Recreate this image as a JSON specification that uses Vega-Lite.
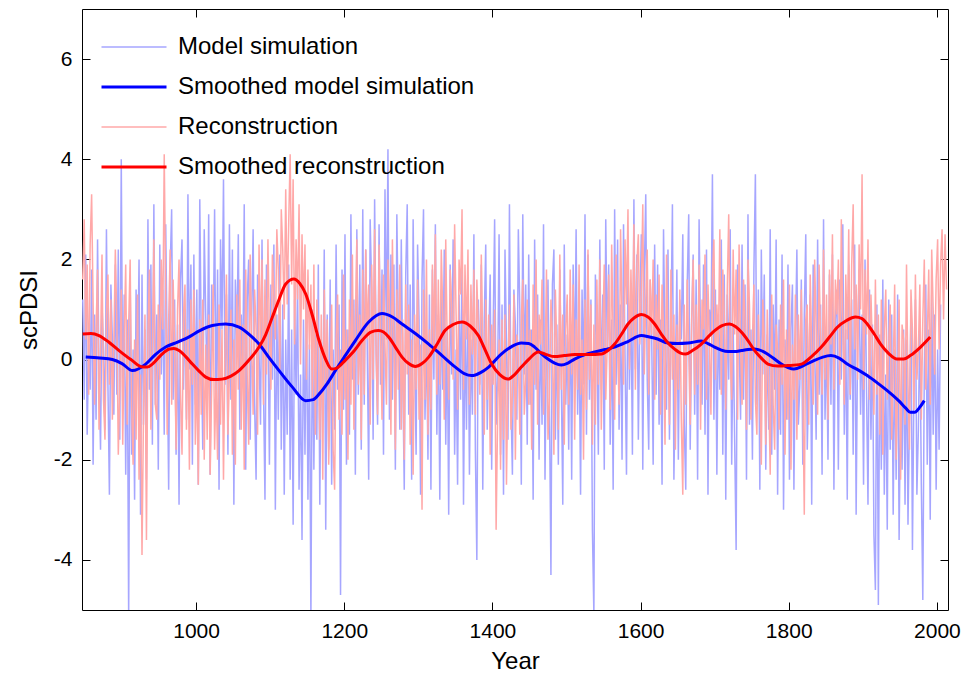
{
"$schema":"https://vega.github.io/schema/vega-lite/v6.json",
"width":866,"height":601,
"autosize":{"type":"none"},
"padding":{"left":82,"top":9,"right":17,"bottom":70},
"background":"white",
"config":{"font":"Liberation Sans","view":{"stroke":null},
"axis":{"grid":false,"domainColor":"black","tickColor":"black","labelColor":"black","titleColor":"black","labelFont":"Liberation Sans","titleFont":"Liberation Sans","labelFontSize":21,"titleFontSize":24,"titleFontWeight":"normal","domainWidth":1,"tickWidth":1}},
"datasets":{
"noise":[
{"t":847,"m":1.2,"r":1.6},{"t":849,"m":-0.8,"r":2.8},{"t":851,"m":2.1,"r":0.4},{"t":853,"m":-1.5,"r":1.9},{"t":855,"m":0.3,"r":-0.7},
{"t":857,"m":-0.6,"r":2.3},{"t":859,"m":1.8,"r":3.3},{"t":861,"m":-2.1,"r":1.1},{"t":863,"m":0.9,"r":-0.9},{"t":865,"m":-1.2,"r":0.6},
{"t":867,"m":2.4,"r":1.8},{"t":869,"m":-0.3,"r":-1.4},{"t":871,"m":-1.8,"r":0.2},{"t":873,"m":1.1,"r":2.1},{"t":875,"m":0.2,"r":-0.8},
{"t":877,"m":-1.4,"r":-1.6},{"t":879,"m":2.6,"r":0.9},{"t":881,"m":-0.5,"r":1.7},{"t":883,"m":-2.7,"r":-0.5},{"t":885,"m":1.5,"r":1.2},
{"t":887,"m":0.4,"r":-1.2},{"t":889,"m":-1.1,"r":0.3},{"t":891,"m":1.9,"r":2.2},{"t":893,"m":-0.7,"r":0.8},{"t":895,"m":2.2,"r":-1.9},
{"t":897,"m":-1.6,"r":-0.6},{"t":899,"m":4.0,"r":1.4},{"t":901,"m":-0.9,"r":-1.7},{"t":903,"m":1.3,"r":0.5},{"t":905,"m":-2.3,"r":1.9},
{"t":907,"m":0.8,"r":-1.3},{"t":909,"m":-5.2,"r":0.7},{"t":911,"m":1.6,"r":2.0},{"t":913,"m":-1.9,"r":-0.9},{"t":915,"m":0.2,"r":-2.1},
{"t":917,"m":-2.8,"r":0.4},{"t":919,"m":1.4,"r":-1.6},{"t":921,"m":-0.4,"r":1.3},{"t":923,"m":2.0,"r":-2.4},{"t":925,"m":-3.1,"r":-0.3},
{"t":927,"m":1.7,"r":-3.9},{"t":929,"m":-1.3,"r":-1.1},{"t":931,"m":0.6,"r":0.9},{"t":933,"m":-2.4,"r":-3.6},{"t":935,"m":2.8,"r":0.5},
{"t":937,"m":-0.6,"r":1.8},{"t":939,"m":1.9,"r":-1.4},{"t":941,"m":-1.7,"r":0.2},{"t":943,"m":3.1,"r":2.4},{"t":945,"m":-0.9,"r":-0.9},
{"t":947,"m":0.9,"r":-1.2},{"t":949,"m":-2.2,"r":1.1},{"t":951,"m":2.3,"r":-0.4},{"t":953,"m":-0.3,"r":2.0},{"t":955,"m":1.4,"r":0.6},
{"t":957,"m":-1.5,"r":4.1},{"t":959,"m":2.7,"r":1.3},{"t":961,"m":0.1,"r":-1.5},{"t":963,"m":-2.6,"r":0.8},{"t":965,"m":1.8,"r":2.2},
{"t":967,"m":3.0,"r":-0.9},{"t":969,"m":-0.8,"r":1.6},{"t":971,"m":1.2,"r":0.3},{"t":973,"m":-1.9,"r":-1.8},{"t":975,"m":0.7,"r":1.0},
{"t":977,"m":-2.9,"r":2.0},{"t":979,"m":1.6,"r":-0.7},{"t":981,"m":2.4,"r":-1.9},{"t":983,"m":-0.6,"r":0.9},{"t":985,"m":1.0,"r":1.5},
{"t":987,"m":-1.2,"r":-1.4},{"t":989,"m":3.3,"r":0.6},{"t":991,"m":-0.2,"r":-2.2},{"t":993,"m":1.9,"r":1.2},{"t":995,"m":-2.1,"r":-0.5},
{"t":997,"m":2.1,"r":1.4},{"t":999,"m":-0.9,"r":-1.7},{"t":1001,"m":1.4,"r":-0.2},{"t":1003,"m":-2.5,"r":-2.5},{"t":1005,"m":3.2,"r":0.8},
{"t":1007,"m":0.3,"r":-1.1},{"t":1009,"m":-1.8,"r":1.2},{"t":1011,"m":2.6,"r":-2.0},{"t":1013,"m":0.9,"r":0.3},{"t":1015,"m":-0.7,"r":-1.6},
{"t":1017,"m":2.9,"r":0.9},{"t":1019,"m":-2.3,"r":-2.3},{"t":1021,"m":1.5,"r":-0.6},{"t":1023,"m":0.2,"r":1.5},{"t":1025,"m":3.0,"r":-1.8},
{"t":1027,"m":-1.1,"r":-0.4},{"t":1029,"m":1.8,"r":-2.0},{"t":1031,"m":-2.6,"r":1.1},{"t":1033,"m":2.4,"r":-1.3},{"t":1035,"m":0.6,"r":0.6},
{"t":1037,"m":3.6,"r":-2.4},{"t":1039,"m":-0.5,"r":0.2},{"t":1041,"m":1.3,"r":1.7},{"t":1043,"m":-1.9,"r":-1.5},{"t":1045,"m":2.7,"r":-0.3},
{"t":1047,"m":-0.8,"r":1.0},{"t":1049,"m":2.2,"r":-1.9},{"t":1051,"m":-2.9,"r":0.4},{"t":1053,"m":1.6,"r":-2.1},{"t":1055,"m":0.4,"r":1.3},
{"t":1057,"m":2.5,"r":-0.6},{"t":1059,"m":-1.4,"r":1.6},{"t":1061,"m":0.9,"r":-1.4},{"t":1063,"m":-0.3,"r":0.7},{"t":1065,"m":3.1,"r":-2.2},
{"t":1067,"m":-2.2,"r":1.8},{"t":1069,"m":1.2,"r":-0.3},{"t":1071,"m":2.0,"r":-1.7},{"t":1073,"m":-1.6,"r":2.1},{"t":1075,"m":0.8,"r":0.4},
{"t":1077,"m":2.6,"r":-1.1},{"t":1079,"m":-0.9,"r":1.4},{"t":1081,"m":-2.4,"r":0.6},{"t":1083,"m":1.7,"r":-1.5},{"t":1085,"m":0.1,"r":2.3},
{"t":1087,"m":-1.3,"r":0.2},{"t":1089,"m":2.4,"r":2.0},{"t":1091,"m":-0.6,"r":-0.9},{"t":1093,"m":-2.8,"r":1.6},{"t":1095,"m":1.9,"r":-0.3},
{"t":1097,"m":0.7,"r":2.4},{"t":1099,"m":-2.1,"r":0.5},{"t":1101,"m":1.5,"r":-0.6},{"t":1103,"m":-0.4,"r":2.1},{"t":1105,"m":2.3,"r":1.3},
{"t":1107,"m":-3.0,"r":0.4},{"t":1109,"m":0.9,"r":2.6},{"t":1111,"m":-1.2,"r":1.8},{"t":1113,"m":2.1,"r":-0.2},{"t":1115,"m":-1.8,"r":3.0},
{"t":1117,"m":1.1,"r":2.2},{"t":1119,"m":-2.7,"r":0.8},{"t":1121,"m":0.4,"r":3.4},{"t":1123,"m":-1.5,"r":1.1},{"t":1125,"m":1.9,"r":2.7},
{"t":1127,"m":-2.4,"r":4.1},{"t":1129,"m":0.6,"r":1.5},{"t":1131,"m":-3.3,"r":3.6},{"t":1133,"m":1.2,"r":0.3},{"t":1135,"m":-0.7,"r":2.4},
{"t":1137,"m":1.5,"r":1.2},{"t":1139,"m":-2.6,"r":3.1},{"t":1141,"m":-0.3,"r":-0.1},{"t":1143,"m":-3.6,"r":2.5},{"t":1145,"m":0.8,"r":1.0},
{"t":1147,"m":-1.9,"r":2.3},{"t":1149,"m":1.2,"r":-0.4},{"t":1151,"m":-2.8,"r":1.8},{"t":1153,"m":0.3,"r":0.2},{"t":1155,"m":-5.2,"r":1.5},
{"t":1157,"m":1.0,"r":-0.8},{"t":1159,"m":-2.2,"r":1.9},{"t":1161,"m":0.5,"r":-1.5},{"t":1163,"m":-1.6,"r":1.2},{"t":1165,"m":1.9,"r":0.3},
{"t":1167,"m":-2.9,"r":-1.6},{"t":1169,"m":0.4,"r":0.9},{"t":1171,"m":-1.2,"r":-2.4},{"t":1173,"m":2.2,"r":1.4},{"t":1175,"m":-3.4,"r":-0.5},
{"t":1177,"m":0.9,"r":0.8},{"t":1179,"m":-1.8,"r":-2.1},{"t":1181,"m":1.6,"r":-0.6},{"t":1183,"m":-2.5,"r":1.1},{"t":1185,"m":0.2,"r":-1.8},
{"t":1187,"m":-1.4,"r":-2.6},{"t":1189,"m":2.3,"r":0.4},{"t":1191,"m":-0.6,"r":1.3},{"t":1193,"m":1.1,"r":-1.2},{"t":1195,"m":-4.7,"r":0.2},
{"t":1197,"m":1.8,"r":-1.5},{"t":1199,"m":-1.0,"r":1.7},{"t":1201,"m":2.5,"r":-0.8},{"t":1203,"m":-2.1,"r":0.6},{"t":1205,"m":0.6,"r":-2.0},
{"t":1207,"m":-1.5,"r":1.2},{"t":1209,"m":2.9,"r":-0.9},{"t":1211,"m":-0.4,"r":2.1},{"t":1213,"m":1.2,"r":-1.4},{"t":1215,"m":-2.3,"r":0.7},
{"t":1217,"m":2.6,"r":2.4},{"t":1219,"m":-0.7,"r":-0.5},{"t":1221,"m":1.9,"r":0.9},{"t":1223,"m":-1.8,"r":-1.6},{"t":1225,"m":3.0,"r":1.8},
{"t":1227,"m":-0.9,"r":-0.7},{"t":1229,"m":2.2,"r":2.2},{"t":1231,"m":0.3,"r":0.4},{"t":1233,"m":-2.4,"r":1.5},{"t":1235,"m":2.8,"r":-1.3},
{"t":1237,"m":1.4,"r":1.9},{"t":1239,"m":-1.6,"r":-0.4},{"t":1241,"m":3.2,"r":2.6},{"t":1243,"m":0.2,"r":0.1},{"t":1245,"m":-1.3,"r":-1.1},
{"t":1247,"m":2.7,"r":2.3},{"t":1249,"m":-0.5,"r":0.6},{"t":1251,"m":1.8,"r":-1.2},{"t":1253,"m":-1.9,"r":1.7},{"t":1255,"m":3.4,"r":0.3},
{"t":1257,"m":0.4,"r":-0.9},{"t":1259,"m":4.2,"r":2.0},{"t":1261,"m":-1.2,"r":1.1},{"t":1263,"m":2.1,"r":-1.5},{"t":1265,"m":-0.8,"r":2.4},
{"t":1267,"m":1.9,"r":0.5},{"t":1269,"m":-2.2,"r":-1.8},{"t":1271,"m":2.9,"r":1.4},{"t":1273,"m":0.6,"r":-0.6},{"t":1275,"m":-1.4,"r":1.9},
{"t":1277,"m":2.4,"r":-1.4},{"t":1279,"m":-0.3,"r":0.8},{"t":1281,"m":-2.6,"r":-2.0},{"t":1283,"m":1.7,"r":1.5},{"t":1285,"m":3.1,"r":-0.3},
{"t":1287,"m":-1.1,"r":1.1},{"t":1289,"m":1.5,"r":-1.7},{"t":1291,"m":-2.4,"r":0.4},{"t":1293,"m":2.8,"r":-2.3},{"t":1295,"m":0.2,"r":0.9},
{"t":1297,"m":-1.9,"r":-0.6},{"t":1299,"m":2.3,"r":1.6},{"t":1301,"m":0.8,"r":-1.2},{"t":1303,"m":-2.7,"r":0.3},{"t":1305,"m":1.6,"r":-3.0},
{"t":1307,"m":3.0,"r":1.4},{"t":1309,"m":-1.2,"r":-0.8},{"t":1311,"m":0.5,"r":2.0},{"t":1313,"m":-2.0,"r":-1.5},{"t":1315,"m":1.3,"r":0.6},
{"t":1317,"m":-2.6,"r":-1.0},{"t":1319,"m":1.8,"r":1.9},{"t":1321,"m":-0.4,"r":0.2},{"t":1323,"m":2.7,"r":2.5},{"t":1325,"m":-1.5,"r":-0.7},
{"t":1327,"m":0.9,"r":1.6},{"t":1329,"m":-2.8,"r":-0.5},{"t":1331,"m":1.4,"r":2.2},{"t":1333,"m":-0.6,"r":0.9},{"t":1335,"m":2.2,"r":-1.2},
{"t":1337,"m":-1.7,"r":2.4},{"t":1339,"m":0.6,"r":0.3},{"t":1341,"m":-3.1,"r":-0.8},{"t":1343,"m":1.9,"r":1.8},{"t":1345,"m":-0.3,"r":1.1},
{"t":1347,"m":2.4,"r":-0.4},{"t":1349,"m":-1.9,"r":2.7},{"t":1351,"m":0.2,"r":0.9},{"t":1353,"m":-2.5,"r":-1.0},{"t":1355,"m":1.3,"r":2.0},
{"t":1357,"m":-0.8,"r":1.3},{"t":1359,"m":2.0,"r":3.0},{"t":1361,"m":-2.9,"r":-0.6},{"t":1363,"m":0.7,"r":1.9},{"t":1365,"m":-1.4,"r":0.4},
{"t":1367,"m":1.6,"r":2.2},{"t":1369,"m":-2.3,"r":-0.9},{"t":1371,"m":0.4,"r":1.5},{"t":1373,"m":-1.1,"r":0.1},{"t":1375,"m":2.5,"r":1.8},
{"t":1377,"m":-1.8,"r":-1.1},{"t":1379,"m":-4.0,"r":1.6},{"t":1381,"m":1.2,"r":0.6},{"t":1383,"m":-0.5,"r":-0.7},{"t":1385,"m":1.9,"r":2.1},
{"t":1387,"m":-2.6,"r":0.3},{"t":1389,"m":0.8,"r":-1.5},{"t":1391,"m":2.3,"r":1.2},{"t":1393,"m":-1.4,"r":-0.8},{"t":1395,"m":0.3,"r":0.9},
{"t":1397,"m":1.7,"r":-1.9},{"t":1399,"m":-2.2,"r":0.7},{"t":1401,"m":0.6,"r":-0.5},{"t":1403,"m":2.8,"r":1.0},{"t":1405,"m":-1.3,"r":-3.4},
{"t":1407,"m":-0.4,"r":-1.2},{"t":1409,"m":2.5,"r":0.4},{"t":1411,"m":-1.9,"r":-2.2},{"t":1413,"m":1.1,"r":0.8},{"t":1415,"m":-2.7,"r":-1.6},
{"t":1417,"m":2.2,"r":0.9},{"t":1419,"m":0.3,"r":-2.5},{"t":1421,"m":-1.6,"r":-0.3},{"t":1423,"m":3.1,"r":1.1},{"t":1425,"m":-0.8,"r":-1.4},
{"t":1427,"m":-2.3,"r":-0.7},{"t":1429,"m":1.4,"r":1.3},{"t":1431,"m":0.7,"r":-2.0},{"t":1433,"m":-1.2,"r":0.5},{"t":1435,"m":2.6,"r":0.2},
{"t":1437,"m":1.0,"r":-1.5},{"t":1439,"m":-2.5,"r":0.8},{"t":1441,"m":2.9,"r":1.6},{"t":1443,"m":-0.3,"r":-1.1},{"t":1445,"m":1.5,"r":-0.4},
{"t":1447,"m":-1.7,"r":1.2},{"t":1449,"m":2.1,"r":-0.9},{"t":1451,"m":-0.9,"r":0.6},{"t":1453,"m":0.6,"r":-1.8},{"t":1455,"m":-2.8,"r":1.5},
{"t":1457,"m":2.4,"r":-0.5},{"t":1459,"m":-0.6,"r":2.0},{"t":1461,"m":1.3,"r":-1.3},{"t":1463,"m":-2.0,"r":0.9},{"t":1465,"m":0.8,"r":0.3},
{"t":1467,"m":-1.3,"r":1.6},{"t":1469,"m":2.7,"r":-1.1},{"t":1471,"m":-2.4,"r":-0.2},{"t":1473,"m":0.4,"r":1.8},{"t":1475,"m":1.6,"r":-1.6},
{"t":1477,"m":-0.8,"r":-0.8},{"t":1479,"m":-4.3,"r":1.2},{"t":1481,"m":1.5,"r":0.5},{"t":1483,"m":2.2,"r":-1.9},{"t":1485,"m":-1.6,"r":1.4},
{"t":1487,"m":0.7,"r":0.2},{"t":1489,"m":-2.1,"r":-1.4},{"t":1491,"m":1.8,"r":2.1},{"t":1493,"m":-0.4,"r":-0.6},{"t":1495,"m":-2.9,"r":0.9},
{"t":1497,"m":2.3,"r":-1.7},{"t":1499,"m":-0.9,"r":0.6},{"t":1501,"m":0.5,"r":1.3},{"t":1503,"m":-1.8,"r":-0.9},{"t":1505,"m":1.2,"r":1.8},
{"t":1507,"m":-2.4,"r":-0.3},{"t":1509,"m":1.9,"r":1.5},{"t":1511,"m":-0.3,"r":-1.6},{"t":1513,"m":2.6,"r":0.8},{"t":1515,"m":-1.1,"r":-0.6},
{"t":1517,"m":0.6,"r":1.9},{"t":1519,"m":-2.7,"r":-0.7},{"t":1521,"m":1.4,"r":0.4},{"t":1523,"m":-0.5,"r":-2.0},{"t":1525,"m":2.9,"r":1.2},
{"t":1527,"m":-1.5,"r":-1.0},{"t":1529,"m":2.1,"r":2.2},{"t":1531,"m":-0.8,"r":-0.4},{"t":1533,"m":1.2,"r":1.1},{"t":1535,"m":-3.4,"r":-1.7},
{"t":1537,"m":-5.1,"r":0.7},{"t":1539,"m":1.7,"r":-1.3},{"t":1541,"m":0.4,"r":1.6},{"t":1543,"m":-1.9,"r":-0.5},{"t":1545,"m":2.4,"r":2.0},
{"t":1547,"m":-0.6,"r":-1.4},{"t":1549,"m":1.3,"r":0.6},{"t":1551,"m":-2.2,"r":1.9},{"t":1553,"m":2.8,"r":-0.8},{"t":1555,"m":0.2,"r":0.3},
{"t":1557,"m":1.9,"r":1.7},{"t":1559,"m":-1.7,"r":-1.0},{"t":1561,"m":0.8,"r":2.3},{"t":1563,"m":-2.6,"r":0.4},{"t":1565,"m":3.0,"r":-1.2},
{"t":1567,"m":-0.5,"r":2.1},{"t":1569,"m":2.4,"r":0.2},{"t":1571,"m":-1.4,"r":-0.9},{"t":1573,"m":1.1,"r":2.6},{"t":1575,"m":-2.0,"r":0.8},
{"t":1577,"m":2.7,"r":-0.5},{"t":1579,"m":0.1,"r":2.4},{"t":1581,"m":-2.3,"r":1.1},{"t":1583,"m":1.8,"r":3.0},{"t":1585,"m":-0.6,"r":-0.2},
{"t":1587,"m":1.4,"r":1.8},{"t":1589,"m":-1.9,"r":0.4},{"t":1591,"m":3.2,"r":2.7},{"t":1593,"m":-0.2,"r":-0.6},{"t":1595,"m":2.1,"r":1.9},
{"t":1597,"m":-1.6,"r":2.5},{"t":1599,"m":0.9,"r":0.3},{"t":1601,"m":2.5,"r":1.4},{"t":1603,"m":-2.2,"r":3.1},{"t":1605,"m":1.7,"r":-0.3},
{"t":1607,"m":3.3,"r":1.2},{"t":1609,"m":-0.4,"r":2.2},{"t":1611,"m":-1.8,"r":-0.7},{"t":1613,"m":1.6,"r":1.6},{"t":1615,"m":0.5,"r":0.5},
{"t":1617,"m":-2.1,"r":2.0},{"t":1619,"m":2.3,"r":-0.8},{"t":1621,"m":-0.7,"r":1.3},{"t":1623,"m":1.9,"r":0.2},{"t":1625,"m":-1.3,"r":1.7},
{"t":1627,"m":0.8,"r":-1.1},{"t":1629,"m":-2.5,"r":1.5},{"t":1631,"m":2.6,"r":0.6},{"t":1633,"m":0.2,"r":-1.7},{"t":1635,"m":-1.0,"r":2.1},
{"t":1637,"m":2.2,"r":0.3},{"t":1639,"m":-1.6,"r":-1.3},{"t":1641,"m":0.6,"r":1.8},{"t":1643,"m":3.1,"r":-0.4},{"t":1645,"m":-2.4,"r":0.9},
{"t":1647,"m":-0.3,"r":-1.8},{"t":1649,"m":1.8,"r":0.7},{"t":1651,"m":-2.0,"r":-0.6},{"t":1653,"m":1.2,"r":1.4},{"t":1655,"m":0.4,"r":-1.2},
{"t":1657,"m":2.5,"r":-2.7},{"t":1659,"m":-1.3,"r":1.1},{"t":1661,"m":-2.6,"r":-0.9},{"t":1663,"m":1.5,"r":1.6},{"t":1665,"m":2.9,"r":0.2},
{"t":1667,"m":-1.8,"r":-1.3},{"t":1669,"m":0.7,"r":0.8},{"t":1671,"m":2.1,"r":2.0},{"t":1673,"m":-1.1,"r":-0.7},{"t":1675,"m":1.6,"r":1.1},
{"t":1677,"m":-2.4,"r":-0.5},{"t":1679,"m":2.8,"r":1.9},{"t":1681,"m":0.3,"r":-1.4},{"t":1683,"m":-0.9,"r":1.2},{"t":1685,"m":1.9,"r":0.6},
{"t":1687,"m":-1.5,"r":2.1},{"t":1689,"m":2.2,"r":-0.8},{"t":1691,"m":-2.7,"r":1.5},{"t":1693,"m":1.0,"r":0.3},{"t":1695,"m":0.5,"r":-1.1},
{"t":1697,"m":3.7,"r":1.7},{"t":1699,"m":-1.2,"r":2.4},{"t":1701,"m":1.4,"r":-0.4},{"t":1703,"m":-2.3,"r":1.1},{"t":1705,"m":0.9,"r":0.2},
{"t":1707,"m":-0.6,"r":2.6},{"t":1709,"m":2.4,"r":-0.7},{"t":1711,"m":-1.9,"r":1.8},{"t":1713,"m":1.7,"r":0.9},{"t":1715,"m":-2.8,"r":-1.0},
{"t":1717,"m":1.3,"r":1.4},{"t":1719,"m":-0.4,"r":2.9},{"t":1721,"m":2.6,"r":0.1},{"t":1723,"m":-2.1,"r":-0.8},{"t":1725,"m":0.7,"r":2.2},
{"t":1727,"m":-1.6,"r":0.5},{"t":1729,"m":-3.8,"r":1.8},{"t":1731,"m":1.9,"r":-1.2},{"t":1733,"m":0.4,"r":2.3},{"t":1735,"m":-1.2,"r":0.3},
{"t":1737,"m":2.3,"r":-0.9},{"t":1739,"m":-0.8,"r":1.6},{"t":1741,"m":1.5,"r":0.8},{"t":1743,"m":-2.4,"r":-1.4},{"t":1745,"m":2.9,"r":2.0},
{"t":1747,"m":-1.3,"r":1.1},{"t":1749,"m":0.6,"r":-1.2},{"t":1751,"m":-2.0,"r":0.4},{"t":1753,"m":1.8,"r":1.5},{"t":1755,"m":3.7,"r":-0.8},
{"t":1757,"m":-0.9,"r":-1.5},{"t":1759,"m":1.4,"r":0.9},{"t":1761,"m":-2.6,"r":-0.3},{"t":1763,"m":2.2,"r":-2.1},{"t":1765,"m":-0.3,"r":1.2},
{"t":1767,"m":1.7,"r":0.4},{"t":1769,"m":-2.2,"r":-1.7},{"t":1771,"m":0.5,"r":1.0},{"t":1773,"m":-1.4,"r":-0.6},{"t":1775,"m":2.6,"r":-2.3},
{"t":1777,"m":-1.9,"r":1.3},{"t":1779,"m":1.1,"r":-0.9},{"t":1781,"m":-0.6,"r":-1.8},{"t":1783,"m":2.4,"r":0.7},{"t":1785,"m":-2.7,"r":0.2},
{"t":1787,"m":0.8,"r":-1.4},{"t":1789,"m":-1.5,"r":1.1},{"t":1791,"m":2.1,"r":-0.5},{"t":1793,"m":-3.0,"r":1.6},{"t":1795,"m":0.4,"r":-1.9},
{"t":1797,"m":-1.2,"r":0.6},{"t":1799,"m":1.9,"r":-1.2},{"t":1801,"m":-2.4,"r":1.5},{"t":1803,"m":0.6,"r":-2.2},{"t":1805,"m":1.5,"r":0.3},
{"t":1807,"m":-2.6,"r":-0.8},{"t":1809,"m":0.3,"r":1.3},{"t":1811,"m":2.2,"r":-1.6},{"t":1813,"m":-1.3,"r":0.9},{"t":1815,"m":-0.5,"r":-0.4},
{"t":1817,"m":1.6,"r":1.4},{"t":1819,"m":-2.1,"r":-0.6},{"t":1821,"m":0.9,"r":-3.1},{"t":1823,"m":2.5,"r":0.8},{"t":1825,"m":-1.8,"r":1.1},
{"t":1827,"m":-0.4,"r":-1.3},{"t":1829,"m":1.3,"r":1.7},{"t":1831,"m":-2.9,"r":0.2},{"t":1833,"m":1.9,"r":-0.9},{"t":1835,"m":0.2,"r":2.0},
{"t":1837,"m":-1.6,"r":0.6},{"t":1839,"m":2.4,"r":-1.1},{"t":1841,"m":-0.7,"r":1.9},{"t":1843,"m":1.1,"r":0.4},{"t":1845,"m":-2.3,"r":-0.7},
{"t":1847,"m":2.8,"r":2.2},{"t":1849,"m":-1.2,"r":-0.4},{"t":1851,"m":0.5,"r":1.3},{"t":1853,"m":-2.0,"r":-1.2},{"t":1855,"m":1.7,"r":1.8},
{"t":1857,"m":-0.9,"r":0.3},{"t":1859,"m":2.1,"r":2.5},{"t":1861,"m":-2.6,"r":-0.6},{"t":1863,"m":0.8,"r":1.6},{"t":1865,"m":1.4,"r":0.9},
{"t":1867,"m":-2.2,"r":2.0},{"t":1869,"m":1.6,"r":-0.5},{"t":1871,"m":-0.4,"r":2.8},{"t":1873,"m":2.7,"r":0.6},{"t":1875,"m":-1.5,"r":-0.9},
{"t":1877,"m":0.6,"r":1.7},{"t":1879,"m":-2.8,"r":0.4},{"t":1881,"m":1.9,"r":2.6},{"t":1883,"m":-0.8,"r":-0.7},{"t":1885,"m":1.2,"r":1.9},
{"t":1887,"m":-1.9,"r":3.1},{"t":1889,"m":2.3,"r":0.2},{"t":1891,"m":-3.1,"r":1.5},{"t":1893,"m":0.4,"r":-0.4},{"t":1895,"m":1.8,"r":2.3},
{"t":1897,"m":-1.1,"r":1.0},{"t":1899,"m":0.9,"r":3.7},{"t":1901,"m":-2.5,"r":-0.6},{"t":1903,"m":2.0,"r":1.8},{"t":1905,"m":-0.6,"r":0.5},
{"t":1907,"m":-2.9,"r":2.4},{"t":1909,"m":1.4,"r":-0.8},{"t":1911,"m":-1.6,"r":1.3},{"t":1913,"m":0.7,"r":0.2},{"t":1915,"m":-3.5,"r":-1.1},
{"t":1917,"m":-4.6,"r":1.6},{"t":1919,"m":1.1,"r":-0.7},{"t":1921,"m":-4.9,"r":0.9},{"t":1923,"m":0.5,"r":-1.5},{"t":1925,"m":-2.2,"r":1.2},
{"t":1927,"m":1.6,"r":-1.9},{"t":1929,"m":-2.7,"r":0.6},{"t":1931,"m":-0.3,"r":1.4},{"t":1933,"m":-3.4,"r":-0.8},{"t":1935,"m":1.2,"r":0.3},
{"t":1937,"m":-1.8,"r":1.1},{"t":1939,"m":0.9,"r":-1.6},{"t":1941,"m":-3.1,"r":-0.3},{"t":1943,"m":0.2,"r":1.5},{"t":1945,"m":-2.4,"r":-2.0},
{"t":1947,"m":1.3,"r":-0.6},{"t":1949,"m":-3.6,"r":1.2},{"t":1951,"m":-0.8,"r":-2.4},{"t":1953,"m":-2.2,"r":0.7},{"t":1955,"m":0.6,"r":0.4},
{"t":1957,"m":-2.9,"r":-1.3},{"t":1959,"m":0.4,"r":1.9},{"t":1961,"m":-3.3,"r":-0.5},{"t":1963,"m":-1.1,"r":-1.8},{"t":1965,"m":1.0,"r":1.4},
{"t":1967,"m":-3.8,"r":0.6},{"t":1969,"m":-0.6,"r":-1.0},{"t":1971,"m":1.2,"r":1.7},{"t":1973,"m":-2.7,"r":-0.4},{"t":1975,"m":-1.4,"r":0.2},
{"t":1977,"m":0.8,"r":1.5},{"t":1979,"m":-2.5,"r":-1.2},{"t":1981,"m":-4.8,"r":0.8},{"t":1983,"m":-0.2,"r":2.0},{"t":1985,"m":1.5,"r":-0.6},
{"t":1987,"m":-2.1,"r":0.4},{"t":1989,"m":0.6,"r":1.8},{"t":1991,"m":-3.2,"r":-0.9},{"t":1993,"m":1.3,"r":2.2},{"t":1995,"m":-1.5,"r":1.0},
{"t":1997,"m":0.9,"r":-0.3},{"t":1999,"m":-2.6,"r":1.6},{"t":2001,"m":0.2,"r":2.4},{"t":2003,"m":-1.8,"r":0.2},{"t":2005,"m":1.1,"r":1.9},
{"t":2007,"r":2.6},{"t":2009,"r":0.8},{"t":2011,"r":2.5},{"t":2013,"r":1.4}
],
"smooth":[
{"t":851,"k":"sm","v":0.05},{"t":870,"k":"sm","v":0.03},{"t":887,"k":"sm","v":0.0},{"t":900,"k":"sm","v":-0.08},{"t":914,"k":"sm","v":-0.22},{"t":932,"k":"sm","v":-0.09},{"t":945,"k":"sm","v":0.1},{"t":959,"k":"sm","v":0.25},{"t":975,"k":"sm","v":0.35},{"t":990,"k":"sm","v":0.45},{"t":1005,"k":"sm","v":0.58},{"t":1022,"k":"sm","v":0.68},{"t":1040,"k":"sm","v":0.71},{"t":1058,"k":"sm","v":0.65},{"t":1072,"k":"sm","v":0.5},{"t":1085,"k":"sm","v":0.31},{"t":1098,"k":"sm","v":0.05},{"t":1112,"k":"sm","v":-0.22},{"t":1130,"k":"sm","v":-0.55},{"t":1148,"k":"sm","v":-0.82},{"t":1158,"k":"sm","v":-0.8},{"t":1166,"k":"sm","v":-0.69},{"t":1177,"k":"sm","v":-0.48},{"t":1188,"k":"sm","v":-0.22},{"t":1200,"k":"sm","v":0.05},{"t":1215,"k":"sm","v":0.38},{"t":1233,"k":"sm","v":0.75},{"t":1251,"k":"sm","v":0.92},{"t":1265,"k":"sm","v":0.85},{"t":1278,"k":"sm","v":0.71},{"t":1296,"k":"sm","v":0.52},{"t":1314,"k":"sm","v":0.31},{"t":1332,"k":"sm","v":0.08},{"t":1350,"k":"sm","v":-0.15},{"t":1362,"k":"sm","v":-0.28},{"t":1372,"k":"sm","v":-0.32},{"t":1384,"k":"sm","v":-0.26},{"t":1395,"k":"sm","v":-0.15},{"t":1412,"k":"sm","v":0.11},{"t":1426,"k":"sm","v":0.26},{"t":1439,"k":"sm","v":0.33},{"t":1449,"k":"sm","v":0.32},{"t":1457,"k":"sm","v":0.25},{"t":1466,"k":"sm","v":0.12},{"t":1475,"k":"sm","v":0.01},{"t":1484,"k":"sm","v":-0.07},{"t":1493,"k":"sm","v":-0.11},{"t":1502,"k":"sm","v":-0.07},{"t":1511,"k":"sm","v":0.01},{"t":1525,"k":"sm","v":0.1},{"t":1538,"k":"sm","v":0.15},{"t":1552,"k":"sm","v":0.2},{"t":1565,"k":"sm","v":0.25},{"t":1583,"k":"sm","v":0.36},{"t":1601,"k":"sm","v":0.48},{"t":1612,"k":"sm","v":0.45},{"t":1623,"k":"sm","v":0.41},{"t":1637,"k":"sm","v":0.33},{"t":1650,"k":"sm","v":0.32},{"t":1664,"k":"sm","v":0.33},{"t":1682,"k":"sm","v":0.37},{"t":1691,"k":"sm","v":0.32},{"t":1700,"k":"sm","v":0.25},{"t":1709,"k":"sm","v":0.19},{"t":1718,"k":"sm","v":0.16},{"t":1727,"k":"sm","v":0.16},{"t":1736,"k":"sm","v":0.18},{"t":1745,"k":"sm","v":0.2},{"t":1754,"k":"sm","v":0.21},{"t":1767,"k":"sm","v":0.15},{"t":1779,"k":"sm","v":0.03},{"t":1790,"k":"sm","v":-0.09},{"t":1799,"k":"sm","v":-0.16},{"t":1807,"k":"sm","v":-0.19},{"t":1820,"k":"sm","v":-0.12},{"t":1834,"k":"sm","v":-0.02},{"t":1846,"k":"sm","v":0.05},{"t":1857,"k":"sm","v":0.08},{"t":1868,"k":"sm","v":0.03},{"t":1879,"k":"sm","v":-0.09},{"t":1893,"k":"sm","v":-0.2},{"t":1906,"k":"sm","v":-0.32},{"t":1920,"k":"sm","v":-0.47},{"t":1933,"k":"sm","v":-0.62},{"t":1949,"k":"sm","v":-0.83},{"t":1958,"k":"sm","v":-0.97},{"t":1964,"k":"sm","v":-1.05},{"t":1970,"k":"sm","v":-1.05},{"t":1977,"k":"sm","v":-0.95},{"t":1983,"k":"sm","v":-0.82},
{"t":847,"k":"sr","v":0.51},{"t":858,"k":"sr","v":0.52},{"t":869,"k":"sr","v":0.48},{"t":882,"k":"sr","v":0.35},{"t":896,"k":"sr","v":0.18},{"t":912,"k":"sr","v":0.0},{"t":928,"k":"sr","v":-0.15},{"t":934,"k":"sr","v":-0.15},{"t":941,"k":"sr","v":-0.09},{"t":952,"k":"sr","v":0.08},{"t":964,"k":"sr","v":0.21},{"t":970,"k":"sr","v":0.22},{"t":977,"k":"sr","v":0.18},{"t":986,"k":"sr","v":0.06},{"t":995,"k":"sr","v":-0.09},{"t":1004,"k":"sr","v":-0.23},{"t":1013,"k":"sr","v":-0.35},{"t":1024,"k":"sr","v":-0.4},{"t":1035,"k":"sr","v":-0.39},{"t":1047,"k":"sr","v":-0.33},{"t":1058,"k":"sr","v":-0.22},{"t":1072,"k":"sr","v":0.0},{"t":1085,"k":"sr","v":0.25},{"t":1094,"k":"sr","v":0.5},{"t":1103,"k":"sr","v":0.85},{"t":1112,"k":"sr","v":1.2},{"t":1121,"k":"sr","v":1.51},{"t":1132,"k":"sr","v":1.61},{"t":1140,"k":"sr","v":1.52},{"t":1148,"k":"sr","v":1.31},{"t":1157,"k":"sr","v":0.88},{"t":1166,"k":"sr","v":0.38},{"t":1175,"k":"sr","v":0.0},{"t":1183,"k":"sr","v":-0.19},{"t":1190,"k":"sr","v":-0.17},{"t":1201,"k":"sr","v":-0.02},{"t":1212,"k":"sr","v":0.15},{"t":1224,"k":"sr","v":0.38},{"t":1236,"k":"sr","v":0.55},{"t":1246,"k":"sr","v":0.58},{"t":1253,"k":"sr","v":0.55},{"t":1260,"k":"sr","v":0.45},{"t":1269,"k":"sr","v":0.25},{"t":1278,"k":"sr","v":0.05},{"t":1287,"k":"sr","v":-0.08},{"t":1296,"k":"sr","v":-0.14},{"t":1305,"k":"sr","v":-0.08},{"t":1314,"k":"sr","v":0.05},{"t":1325,"k":"sr","v":0.3},{"t":1336,"k":"sr","v":0.58},{"t":1347,"k":"sr","v":0.7},{"t":1359,"k":"sr","v":0.75},{"t":1370,"k":"sr","v":0.67},{"t":1381,"k":"sr","v":0.48},{"t":1390,"k":"sr","v":0.2},{"t":1399,"k":"sr","v":-0.09},{"t":1410,"k":"sr","v":-0.3},{"t":1421,"k":"sr","v":-0.39},{"t":1430,"k":"sr","v":-0.3},{"t":1439,"k":"sr","v":-0.15},{"t":1450,"k":"sr","v":0.02},{"t":1462,"k":"sr","v":0.15},{"t":1473,"k":"sr","v":0.1},{"t":1484,"k":"sr","v":0.06},{"t":1497,"k":"sr","v":0.08},{"t":1511,"k":"sr","v":0.1},{"t":1530,"k":"sr","v":0.1},{"t":1547,"k":"sr","v":0.11},{"t":1556,"k":"sr","v":0.18},{"t":1565,"k":"sr","v":0.31},{"t":1574,"k":"sr","v":0.5},{"t":1583,"k":"sr","v":0.71},{"t":1592,"k":"sr","v":0.84},{"t":1601,"k":"sr","v":0.9},{"t":1610,"k":"sr","v":0.85},{"t":1619,"k":"sr","v":0.71},{"t":1628,"k":"sr","v":0.51},{"t":1637,"k":"sr","v":0.33},{"t":1646,"k":"sr","v":0.21},{"t":1654,"k":"sr","v":0.13},{"t":1661,"k":"sr","v":0.11},{"t":1670,"k":"sr","v":0.18},{"t":1682,"k":"sr","v":0.31},{"t":1691,"k":"sr","v":0.45},{"t":1700,"k":"sr","v":0.58},{"t":1710,"k":"sr","v":0.68},{"t":1720,"k":"sr","v":0.71},{"t":1728,"k":"sr","v":0.66},{"t":1736,"k":"sr","v":0.55},{"t":1745,"k":"sr","v":0.38},{"t":1754,"k":"sr","v":0.18},{"t":1763,"k":"sr","v":0.03},{"t":1772,"k":"sr","v":-0.09},{"t":1785,"k":"sr","v":-0.13},{"t":1799,"k":"sr","v":-0.12},{"t":1817,"k":"sr","v":-0.09},{"t":1830,"k":"sr","v":0.05},{"t":1844,"k":"sr","v":0.25},{"t":1855,"k":"sr","v":0.45},{"t":1866,"k":"sr","v":0.65},{"t":1878,"k":"sr","v":0.78},{"t":1890,"k":"sr","v":0.85},{"t":1899,"k":"sr","v":0.82},{"t":1906,"k":"sr","v":0.71},{"t":1915,"k":"sr","v":0.52},{"t":1924,"k":"sr","v":0.31},{"t":1935,"k":"sr","v":0.12},{"t":1946,"k":"sr","v":0.01},{"t":1955,"k":"sr","v":0.01},{"t":1964,"k":"sr","v":0.08},{"t":1978,"k":"sr","v":0.25},{"t":1991,"k":"sr","v":0.45}
]},
"layer":[
{"data":{"name":"noise"},
"transform":[{"fold":["m","r"],"as":["k","v"]},{"filter":"isValid(datum.v)"}],
"mark":{"type":"line","clip":true},
"encoding":{
"x":{"field":"t","type":"quantitative","scale":{"domain":[846,2015],"nice":false,"zero":false},
"axis":{"orient":"bottom","values":[1000,1200,1400,1600,1800,2000],"title":"Year","tickSize":-8,"labelPadding":18,"labelExpr":"''+datum.value","titlePadding":8}},
"y":{"field":"v","type":"quantitative","scale":{"domain":[-5,7],"nice":false,"zero":false},
"axis":{"orient":"left","values":[-4,-2,0,2,4,6],"title":"scPDSI","tickSize":-8,"labelPadding":18,"labelExpr":"''+datum.value","titlePadding":12}},
"color":{"field":"k","type":"nominal","scale":{"domain":["m","sm","r","sr"],"range":["#a6a6ff","#0000ff","#ffa8a8","#ff0000"]},
"legend":{"title":null,"orient":"none","legendX":18,"legendY":28,"symbolType":"stroke","symbolSize":4225,"clipHeight":20,"rowPadding":16,"labelOffset":10,"labelFontSize":24,"labelFont":"Liberation Sans","labelColor":"black","labelLimit":500,"padding":0,
"labelExpr":"datum.label=='m'?'Model simulation':datum.label=='sm'?'Smoothed model simulation':datum.label=='r'?'Reconstruction':'Smoothed reconstruction'"}},
"strokeWidth":{"field":"k","type":"nominal","scale":{"type":"ordinal","domain":["m","sm","r","sr"],"range":[1.5,3,1.5,3]},"legend":null}
}},
{"data":{"name":"smooth"},
"mark":{"type":"line","interpolate":"monotone","clip":true},
"encoding":{
"x":{"field":"t","type":"quantitative","scale":{"domain":[846,2015],"nice":false,"zero":false},
"axis":{"orient":"top","values":[1000,1200,1400,1600,1800,2000],"title":null,"labels":false,"tickSize":-8}},
"y":{"field":"v","type":"quantitative","scale":{"domain":[-5,7],"nice":false,"zero":false},
"axis":{"orient":"right","values":[-4,-2,0,2,4,6],"title":null,"labels":false,"tickSize":-8}},
"color":{"field":"k","type":"nominal","scale":{"domain":["m","sm","r","sr"],"range":["#a6a6ff","#0000ff","#ffa8a8","#ff0000"]}},
"strokeWidth":{"field":"k","type":"nominal","scale":{"type":"ordinal","domain":["m","sm","r","sr"],"range":[1.5,3,1.5,3]},"legend":null}
}}
],
"resolve":{"axis":{"x":"independent","y":"independent"}}
}
